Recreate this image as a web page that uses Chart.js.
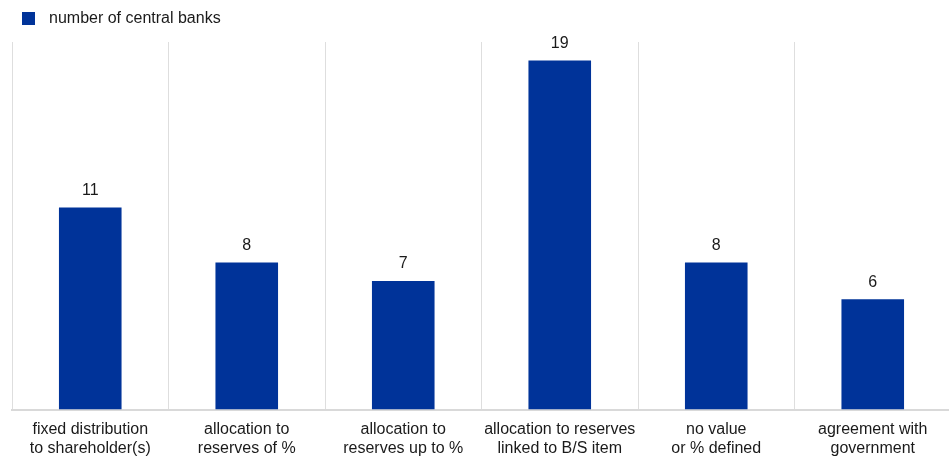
<!DOCTYPE html>
<html>
<head>
<meta charset="utf-8">
<script src="https://cdn.jsdelivr.net/npm/chart.js@4/dist/chart.umd.min.js"></script>
<style>
  html, body { margin: 0; padding: 0; background: #fff; overflow: hidden; }
  /* slightly wider than the window: the last separator sits just off the right edge */
  #wrap { width: 951px; height: 472px; }
</style>
</head>
<body>
<div id="wrap"><canvas id="chart"></canvas></div>
<script>
const categories = [
    ['fixed distribution', 'to shareholder(s)'],
    ['allocation to', 'reserves of %'],
    ['allocation to', 'reserves up to %'],
    ['allocation to reserves', 'linked to B/S item'],
    ['no value', 'or % defined'],
    ['agreement with', 'government']
];
const seriesName = 'number of central banks';
const centralBanks = [11, 8, 7, 19, 8, 6];

const barColor = '#003399';
const textColor = '#1a1a1a';
const fontFamily = 'Arial, "Liberation Sans", sans-serif';

// values above each bar
const valueLabels = {
    id: 'valueLabels',
    afterDatasetsDraw(chart) {
        const ctx = chart.ctx;
        ctx.save();
        ctx.font = '16px ' + fontFamily;
        ctx.fillStyle = textColor;
        ctx.textAlign = 'center';
        ctx.textBaseline = 'bottom';
        chart.getDatasetMeta(0).data.forEach((bar, i) => {
            ctx.fillText(centralBanks[i], bar.x, bar.y - 9);
        });
        ctx.restore();
    }
};

// legend drawn by hand so the gap between box and text matches
const topLegend = {
    id: 'topLegend',
    afterDraw(chart) {
        const ctx = chart.ctx;
        ctx.save();
        ctx.fillStyle = barColor;
        ctx.fillRect(22, 12, 13, 13);
        ctx.font = '16px ' + fontFamily;
        ctx.fillStyle = textColor;
        ctx.textAlign = 'left';
        ctx.textBaseline = 'middle';
        ctx.fillText(chart.data.datasets[0].label, 49, 19);
        ctx.restore();
    }
};

const ctx = document.getElementById('chart').getContext('2d');
new Chart(ctx, {
    type: 'bar',
    data: {
        labels: categories,
        datasets: [{
            label: seriesName,
            data: centralBanks,
            backgroundColor: barColor,
            borderWidth: 0,
            barPercentage: 0.4,
            categoryPercentage: 1.0
        }]
    },
    options: {
        responsive: true,
        maintainAspectRatio: false,
        animation: false,
        layout: { padding: { left: 12, right: 0, top: 42, bottom: 4 } },
        plugins: {
            legend: { display: false },
            tooltip: { enabled: false }
        },
        scales: {
            x: {
                offset: true,
                grid: {
                    offset: true,
                    color: '#dedede',
                    lineWidth: 1,
                    drawTicks: false
                },
                border: { color: '#d9d9d9', width: 2 },
                ticks: {
                    color: textColor,
                    padding: 10,
                    maxRotation: 0,
                    autoSkip: false,
                    font: { size: 16, family: fontFamily }
                }
            },
            y: {
                display: false,
                min: 0,
                max: 20
            }
        }
    },
    plugins: [valueLabels, topLegend]
});
</script>
</body>
</html>
